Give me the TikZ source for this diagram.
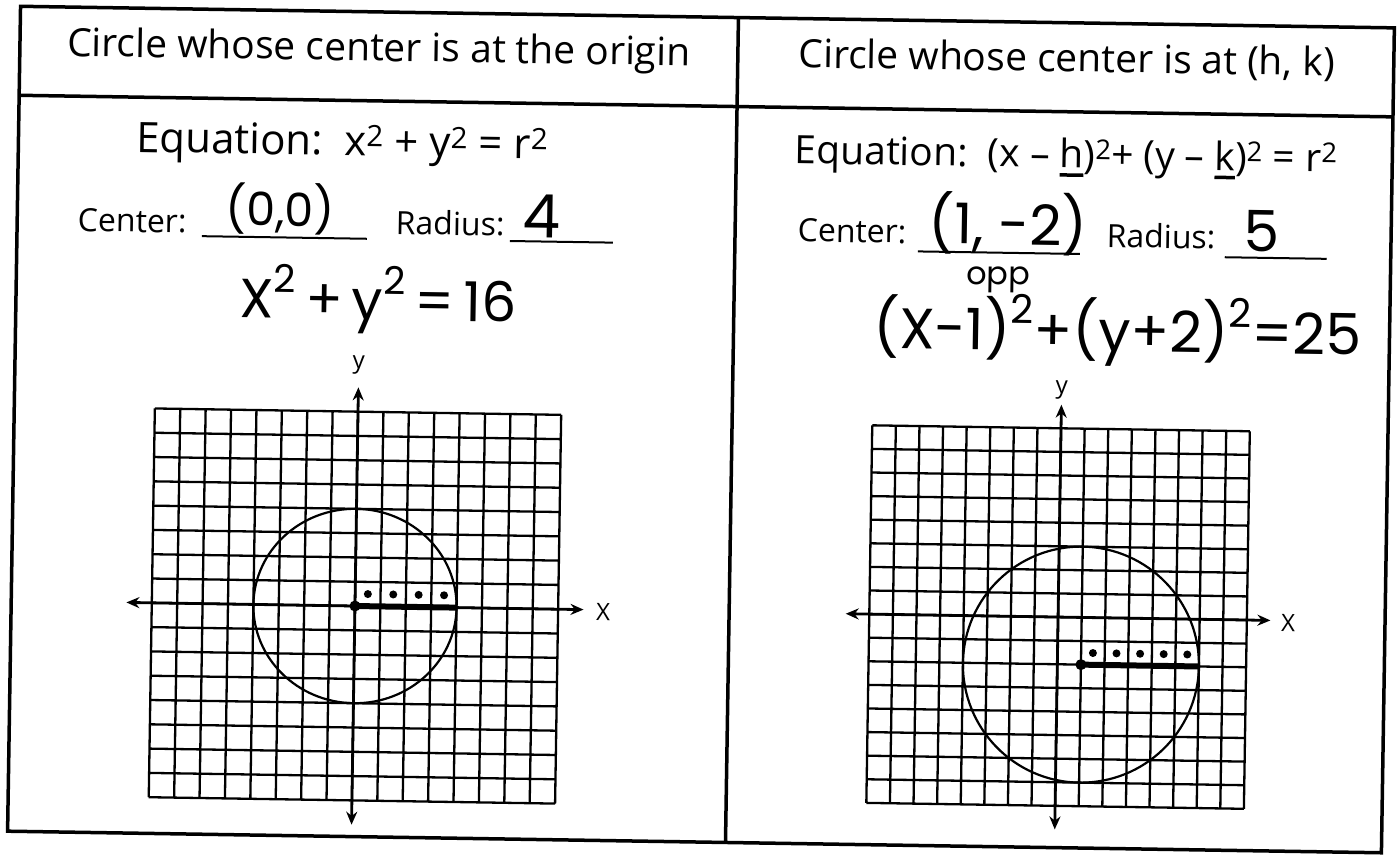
\documentclass[tikz,border=0pt]{standalone}
\usepackage{fontspec}
\setmainfont{Open Sans}
\newfontfamily\handfont{Poppins}
\usetikzlibrary{arrows.meta}

\newcommand{\handul}[1]{\setbox0=\hbox{#1}\rlap{\rule[-9pt]{\wd0}{3.5pt}}\box0}
\newcommand{\hsup}[1]{\raisebox{0.3em}{\textsuperscript{#1}}}

\tikzset{
  tableline/.style={line width=3.5pt},
  printed/.style={anchor=base,inner sep=0pt,font=\fontsize{#1}{#1}\selectfont},
  hand/.style={anchor=base,inner sep=0pt,font=\handfont\fontsize{#1}{#1}\selectfont},
  blank/.style={line width=2pt},
  gridline/.style={line width=2.3pt},
  axisline/.style={line width=2.8pt,{Stealth[length=13pt,width=11pt]}-{Stealth[length=13pt,width=11pt]}},
  circ/.style={line width=2.2pt},
  radseg/.style={line width=6pt},
  axislabel/.style={inner sep=0pt,font=\fontsize{24}{24}\selectfont}
}

\begin{document}
\begin{tikzpicture}[x=1pt,y=-1pt]
  \fill[white] (0,0) rectangle (1398,856);
  \useasboundingbox (0,0) rectangle (1398,856);
  \begin{scope}[rotate around={-0.9:(699,428)},transform shape]
    \draw[tableline] (14,17) rectangle (1388,842);
    \draw[tableline] (14,106) -- (1388,106);
    \draw[tableline] (732,17) -- (732,842);

    \node[printed=39] (headL) at (373,66) {Circle whose center is at the origin};
    \node[printed=39] (headR) at (1061,66) {Circle whose center is at (h, k)};

    \node[printed=42] (eqL) at (338,161) {Equation:\ \ x\textsuperscript{2} + y\textsuperscript{2} = r\textsuperscript{2}};
    \node[printed=39] (eqR) at (1062,162) {Equation:\ \ (x – \handul{h})\textsuperscript{2}+ (y – \handul{k})\textsuperscript{2} = r\textsuperscript{2}};

    \node[printed=32] (centL) at (129,241) {Center:};
    \node[printed=32] (radL) at (447,239) {Radius:};
    \node[printed=32] (centR) at (849,240) {Center:};
    \node[printed=32] (radR) at (1158,241) {Radius:};
    \draw[blank] (199,244) -- (364,244);
    \draw[blank] (507,244) -- (610,244);
    \draw[blank] (915,248) -- (1077,248);
    \draw[blank] (1222,249) -- (1324,249);

    \node[hand=46] (ansCL) at (277,233) {(0,0)};
    \node[hand=60] (ansRL) at (538,240) {4};
    \node[hand=55] (eqHL) at (376,325) {X\hsup{2}\,+\,y\hsup{2}\,=\,16};
    \node[hand=56] (ansCR) at (1005,240) {(1, -2)};
    \node[hand=32] (opp) at (996,280) {opp};
    \node[hand=57] (ansRR) at (1259,243) {5};
    \node[hand=57] (eqHR) at (1116,345) {(X-1)\hsup{2}+(y+2)\hsup{2}=25};

    \begin{scope}[shift={(357.8,611.4)},x=25.4pt,y=24.3pt]
      \draw[gridline,step=1] (-8,-8) grid (8,8);
      \draw[axisline] (-9,0) -- (9,0);
      \draw[axisline] (0,-9) -- (0,9);
      \node[axislabel] (xL) at (9.77,-0.09) {X};
      \node[axislabel] (yL) at (0,9.9) {y};
      \draw[circ] (0,0) circle (4);
      \draw[radseg] (0,0) -- (4,0);
      \fill (0,0) circle (5.5pt);
      \foreach \i in {0,...,3}
        \fill (\i+0.5,0.5) circle (4pt);
    \end{scope}

    \begin{scope}[shift={(1061,611.4)},x=23.6pt,y=23.6pt]
      \draw[gridline,step=1] (-8,-8) grid (8,8);
      \draw[axisline] (-9,0) -- (9,0);
      \draw[axisline] (0,-9) -- (0,9);
      \node[axislabel] (xR) at (9.75,-0.1) {X};
      \node[axislabel] (yR) at (0,9.62) {y};
      \draw[circ] (1,-2) circle (5);
      \draw[radseg] (1,-2) -- (6,-2);
      \fill (1,-2) circle (5.5pt);
      \foreach \i in {1,...,5}
        \fill (\i+0.5,-1.5) circle (4pt);
    \end{scope}
  \end{scope}
\end{tikzpicture}
\end{document}
